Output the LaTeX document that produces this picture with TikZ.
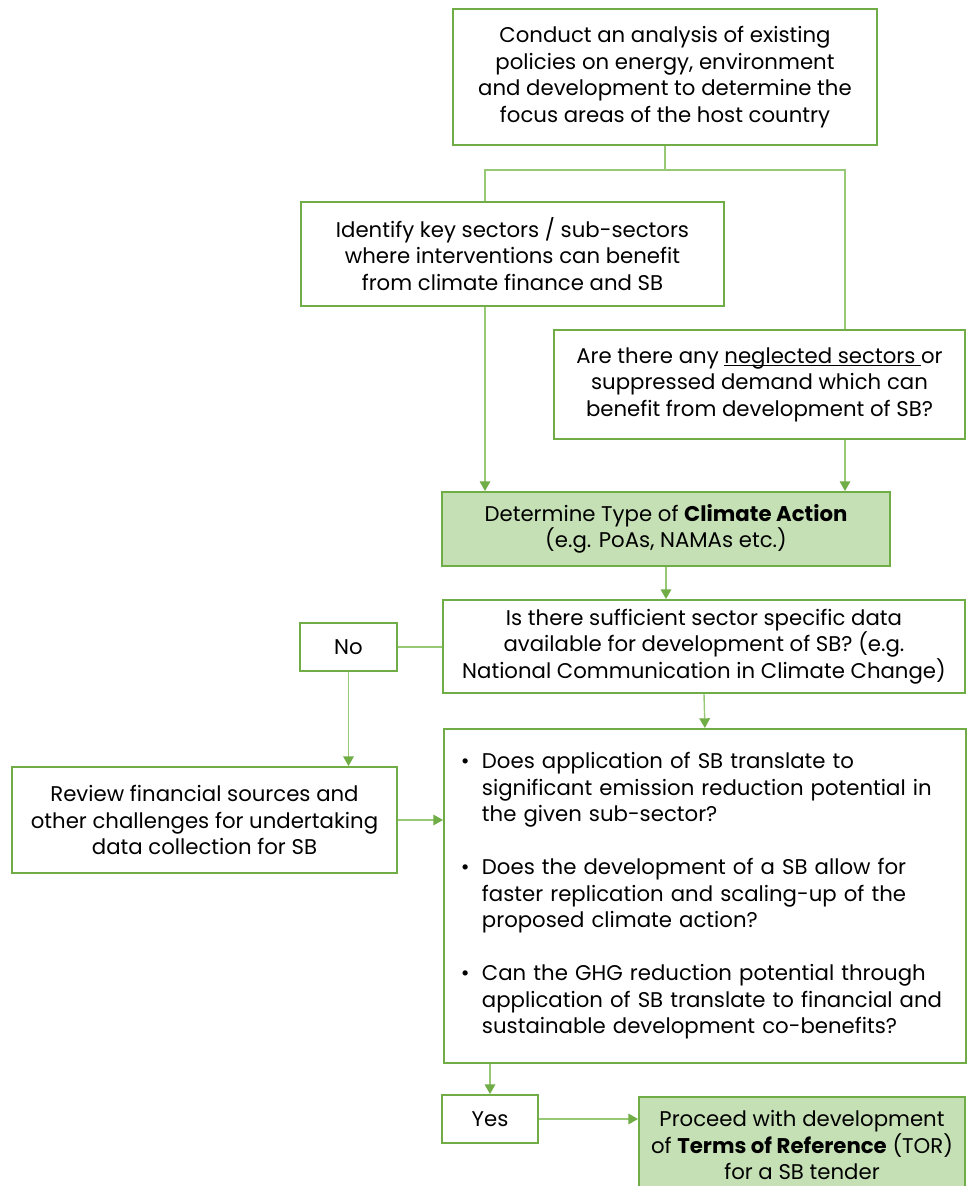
\documentclass[tikz,border=0pt]{standalone}
\usepackage{fontspec}
\setmainfont{Poppins}
\usetikzlibrary{arrows.meta,positioning,calc}
\definecolor{boxGreen}{RGB}{112,173,71}
\definecolor{fillGreen}{RGB}{197,224,180}
\definecolor{linkGreen}{RGB}{150,200,118}
\newcommand{\bul}{\makebox[0.42cm][l]{\textbullet}}
\newcommand{\uln}[1]{\setbox0\hbox{#1}\rlap{\rule[-1.6pt]{\wd0}{0.5pt}}\box0}

\begin{document}
\begin{tikzpicture}[x=0.02cm,y=-0.02cm,
  sbox/.style={draw=boxGreen,line width=1.1pt,fill=#1,align=center,inner sep=0pt,
               font=\fontsize{12.1}{15.1}\selectfont},
  sbox/.default=white,
  link/.style={linkGreen,line width=0.8pt},
  flow/.style={link,-{Triangle[length=5.5pt,width=6pt,color=boxGreen]}}]
  \useasboundingbox (0,0) rectangle (967,1186);
  \node[sbox,minimum width=8.48cm,minimum height=2.72cm] (policy) at (665,77)
    {Conduct an analysis of existing\\policies on energy, environment\\and development to determine the\\focus areas of the host country};
  \node[sbox,minimum width=8.46cm,minimum height=2.08cm] (ident) at (512.5,254)
    {Identify key sectors / sub-sectors\\where interventions can benefit\\from climate finance and SB};
  \node[sbox,minimum width=8.22cm,minimum height=2.18cm] (negl) at (759.5,384.5)
    {Are there any \uln{neglected sectors\ }or\\suppressed demand which can\\benefit from development of SB?};
  \node[sbox=fillGreen,minimum width=8.96cm,minimum height=1.48cm] (act) at (666,529)
    {Determine Type of \textbf{Climate Action}\\(e.g. PoAs, NAMAs etc.)};
  \node[sbox,minimum width=10.44cm,minimum height=1.86cm] (data) at (704,646.5)
    {Is there sufficient sector specific data\\available for development of SB? (e.g.\\National Communication in Climate Change)};
  \node[sbox,minimum width=1.94cm,minimum height=0.96cm] (no) at (348.5,647) {No};
  \node[sbox,minimum width=7.7cm,minimum height=2.12cm] (review) at (204.5,820)
    {Review financial sources and\\other challenges for undertaking\\data collection for SB};
  \node[sbox,anchor=north west,text width=9.76cm,inner xsep=0.34cm,minimum height=6.68cm,
        align=left] (bullets) at (443,728)
    {\begin{tabular}{@{}l@{}l@{}}
     \bul & Does application of SB translate to\\
          & significant emission reduction potential in\\
          & the given sub-sector?\\[15.1pt]
     \bul & Does the development of a SB allow for\\
          & faster replication and scaling-up of the\\
          & proposed climate action?\\[15.1pt]
     \bul & Can the GHG reduction potential through\\
          & application of SB translate to financial and\\
          & sustainable development co-benefits?
     \end{tabular}};
  \node[sbox,minimum width=1.92cm,minimum height=0.96cm] (yes) at (490,1119) {Yes};
  \node[sbox=fillGreen,minimum width=6.52cm,minimum height=1.92cm] (proceed) at (802,1145)
    {Proceed with development\\of \textbf{Terms of Reference} (TOR)\\for a SB tender};
  % split below the first box
  \coordinate (split) at (665,170);
  \coordinate (lcol) at (485,0);
  \coordinate (rcol) at (845,0);
  \draw[link] (policy.south) -- (split);
  \draw[link] (lcol |- ident.north) |- (split) -| (rcol |- negl.north);
  \draw[flow] (lcol |- ident.south) -- (lcol |- act.north);
  \draw[flow] (rcol |- negl.south) -- (rcol |- act.north);
  \draw[flow] (act.south) -- (act.south |- data.north);
  \draw[link] (no.east) -- (no.east -| data.west);
  \draw[flow] (no.south) -- (no.south |- review.north);
  \draw[flow] (review.east) -- (review.east -| bullets.west);
  \draw[flow] (data.south) -- (bullets.north);
  \draw[flow] (yes.north |- bullets.south) -- (yes.north);
  \draw[flow] (yes.east) -- (yes.east -| proceed.west);
\end{tikzpicture}
\end{document}
